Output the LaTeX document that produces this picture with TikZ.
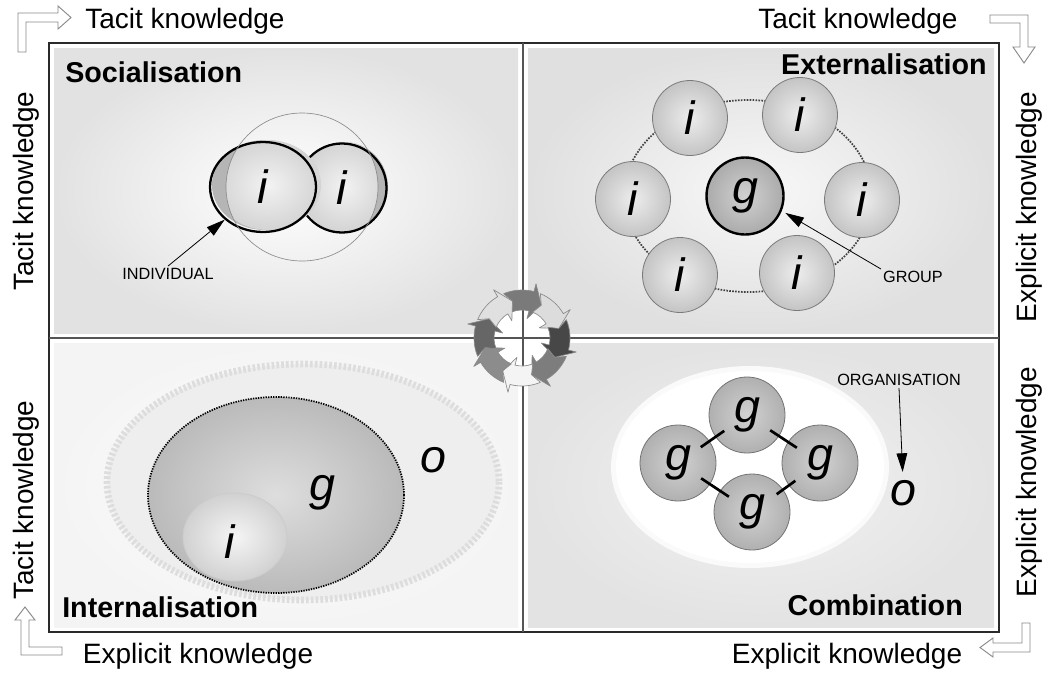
\documentclass[tikz,border=0pt]{standalone}
\usepackage{fontspec}
\setmainfont{Liberation Sans}
\usetikzlibrary{shapes.geometric,arrows.meta}
\definecolor{frameC}{HTML}{2A2A2A}
\definecolor{divC}{HTML}{555555}
\definecolor{panTL}{HTML}{E2E2E2}
\definecolor{panTR}{HTML}{E0E0E0}
\definecolor{panBL}{HTML}{F4F4F4}
\definecolor{panBR}{HTML}{E3E3E3}
\definecolor{icB}{HTML}{7A7A7A}
\definecolor{icIn}{HTML}{EDEDED}
\definecolor{icOut}{HTML}{C4C4C4}
\definecolor{crescent}{HTML}{B5B5B5}
\definecolor{cornerC}{HTML}{8A8A8A}
\definecolor{cyA}{HTML}{7A7A7A}
\definecolor{cyB}{HTML}{DCDCDC}
\definecolor{cyC}{HTML}{474747}
\definecolor{cyD}{HTML}{7D7D7D}
\definecolor{cyE}{HTML}{F4F4F4}
\definecolor{cyF}{HTML}{8C8C8C}
\definecolor{cyG}{HTML}{666666}
\definecolor{cyH}{HTML}{E0E0E0}
\definecolor{cyEdge}{HTML}{8A8A8A}
\definecolor{oFill}{HTML}{EEEEEE}
\definecolor{oEdge}{HTML}{DDDDDD}
\begin{document}
\begin{tikzpicture}[x=0.75pt,y=-0.75pt,
  axislbl/.style={font=\fontsize{21}{21}\selectfont, anchor=base, inner sep=0pt},
  qtitle/.style={font=\fontsize{21.5}{21.5}\selectfont\bfseries, inner sep=0pt},
  smalllbl/.style={font=\fontsize{12.2}{12.2}\selectfont, inner sep=1.5pt},
  lett/.style={font=\fontsize{35}{35}\selectfont\itshape, inner sep=0pt},
  icirc/.style={circle, minimum size=56.25pt, draw=icB, line width=0.6pt, inner color=icIn, outer color=icOut, lett},
  gbig/.style={circle, minimum size=57.75pt, draw=black, line width=1.8pt, inner color=black!18, outer color=black!33, lett},
  gcirc/.style={circle, minimum size=57pt, draw=black!55, line width=0.6pt, inner color=black!18, outer color=black!31, lett},
  gline/.style={line width=2pt, black, shorten <=-8pt, shorten >=-8pt},
  ptr/.style={-{Triangle[length=14pt,width=8pt]}, line width=0.6pt, black},
  corner/.style={draw=cornerC, fill=white, line width=0.7pt},
  ring/.style={line width=1.3pt, black!75, dash pattern=on 1.2pt off 1pt},
]
\useasboundingbox (0,0) rectangle (1048,672);
\fill[white] (0,0) rectangle (1048,672);

% quadrant panels
\shade[inner color=white, outer color=panTL] (54,48) rectangle (518,333);
\shade[inner color=white!97!black, outer color=panTR] (528,48) rectangle (994,333);
\shade[inner color=white, outer color=panBL] (54,343) rectangle (518,627);
\shade[inner color=white!95!black, outer color=panBR] (528,343) rectangle (994,627);

% frame
\draw[frameC, line width=1.5pt] (49,43) rectangle (999,632);

% cycle hole + dividers
\fill[white] (522,338) circle[radius=28];
\draw[divC, line width=1.1pt] (523,43) -- (523,632);
\draw[divC, line width=1.1pt] (49,338) -- (999,338);

% cycle of arrows
\begin{scope}[shift={(522,338)}, yscale=-1]
\foreach \col [count=\k] in {cyA,cyB,cyC,cyD,cyE,cyF,cyG,cyH}{
  \pgfmathsetmacro{\s}{112.5-45*(\k-1)}
  \pgfmathsetmacro{\hb}{\s-37}
  \pgfmathsetmacro{\tp}{\s-53}
  \pgfmathsetmacro{\nt}{\s-8}
  \filldraw[fill=\col, draw=cyEdge, line width=0.5pt, line join=round]
    (\s:48) arc[start angle=\s, end angle=\hb, radius=48]
    -- (\hb:56) -- (\tp:38) -- (\hb:20) -- (\hb:28)
    arc[start angle=\hb, end angle=\s, radius=28]
    -- (\nt:38) -- cycle;
}
\end{scope}

% axis labels
\node[axislbl] (tTL) at (185,28) {Tacit knowledge};
\node[axislbl] (tTR) at (858,28) {Tacit knowledge};
\node[axislbl] (eBL) at (198,663) {Explicit knowledge};
\node[axislbl] (eBR) at (847,663) {Explicit knowledge};
\node[axislbl, rotate=90] (tL1) at (33,191) {Tacit knowledge};
\node[axislbl, rotate=90] (tL2) at (33,500) {Tacit knowledge};
\node[axislbl, rotate=90] (eR1) at (1036,207) {Explicit knowledge};
\node[axislbl, rotate=90] (eR2) at (1036,482) {Explicit knowledge};

% corner arrows
\draw[corner] (18,52) -- (18,13) -- (58,13) -- (58,6) -- (71,17.5) -- (58,29) -- (58,22) -- (26,22) -- (26,52) -- cycle;
\draw[corner] (990,15) -- (1028,15) -- (1028,47) -- (1035,47) -- (1024,63) -- (1013,47) -- (1020,47) -- (1020,23) -- (990,23) -- cycle;
\draw[corner] (25,607) -- (35,620) -- (29,620) -- (29,647) -- (62,647) -- (62,655) -- (21,655) -- (21,620) -- (15,620) -- cycle;
\draw[corner] (980,647.5) -- (993,638) -- (993,643) -- (1022,643) -- (1022,623) -- (1030,623) -- (1030,652) -- (993,652) -- (993,657) -- cycle;

% quadrant titles
\node[qtitle, anchor=base west] (socT) at (65,82) {Socialisation};
\node[qtitle, anchor=base east] (extT) at (987,74) {Externalisation};
\node[qtitle, anchor=base west] (intT) at (62,617) {Internalisation};
\node[qtitle, anchor=base east] (comT) at (963,615) {Combination};

% ---------- Socialisation ----------
\fill[crescent] (344,187) ellipse[x radius=44, y radius=45];
\begin{scope}
  \clip (302,187) ellipse[x radius=76, y radius=74];
  \shade[inner color=white!95!black, outer color=black!17] (344,187) ellipse[x radius=44, y radius=45];
\end{scope}
\node[circle, draw=black, line width=1.7pt, minimum size=66.75pt, lett] (iR) at (342,188) {i};
\fill[crescent] (265,185) ellipse[x radius=53, y radius=45];
\begin{scope}
  \clip (302,187) ellipse[x radius=76, y radius=74];
  \shade[inner color=white!95!black, outer color=black!17] (268,185) ellipse[x radius=53, y radius=45];
\end{scope}
\node[ellipse, draw=black, line width=1.7pt, minimum width=79.5pt, minimum height=67.5pt, lett] (iL) at (263,187) {i};
\draw[black!45, line width=0.5pt] (302,187) ellipse[x radius=76, y radius=74];
\node[smalllbl] (indiv) at (168,274) {INDIVIDUAL};
\draw[ptr] (indiv.north) -- (iL.south west);

% ---------- Externalisation ----------
\draw[ring] (748,196) ellipse[x radius=124, y radius=96];
\node[icirc] (e1) at (690,118) {i};
\node[icirc] (e2) at (800,115) {i};
\node[icirc] (e3) at (633,199) {i};
\node[icirc] (e4) at (862,200) {i};
\node[icirc] (e5) at (680,275) {i};
\node[icirc] (e6) at (797,273) {i};
\node[gbig] (gC) at (745,196) {g};
\node[smalllbl] (grp) at (913,277) {GROUP};
\draw[ptr, shorten >=3pt] (grp.north west) -- (gC.-22);

% ---------- Combination ----------
\fill[white!98!black] (750,467) ellipse[x radius=139, y radius=101];
\fill[white] (750,467) ellipse[x radius=134, y radius=96];
\node[gcirc] (gT) at (747,415) {g};
\node[gcirc] (gL) at (678,463) {g};
\node[gcirc] (gR) at (820,463) {g};
\node[gcirc] (gB) at (752,512) {g};
\draw[gline] (gL) -- (gT);
\draw[gline] (gT) -- (gR);
\draw[gline] (gL) -- (gB);
\draw[gline, shorten <=-6pt, shorten >=-6pt] (gB) -- (gR);
\node[smalllbl] (org) at (899,380) {ORGANISATION};
\node[lett] (oBR) at (903,493) {o};
\draw[ptr, shorten >=6pt] (org.south) -- (oBR.north);

% ---------- Internalisation ----------
\path[fill=oFill, draw=oEdge, line width=5pt, dash pattern=on 2pt off 1.6pt] (303,482) ellipse[x radius=196, y radius=118];
\shade[inner color=black!13, outer color=black!27] (276,495) ellipse[x radius=128, y radius=98];
\draw[black, line width=1.3pt, dash pattern=on 1pt off 0.9pt] (276,495) ellipse[x radius=128, y radius=98];
\shade[inner color=white!96!black, outer color=black!18] (235,537) ellipse[x radius=52, y radius=44];
\draw[black!20, line width=0.6pt] (235,537) ellipse[x radius=52, y radius=44];
\node[lett] (gBL) at (322,493) {g};
\node[lett] (oBL) at (433,460) {o};
\node[lett] (iBL) at (230,542) {i};
\end{tikzpicture}
\end{document}
